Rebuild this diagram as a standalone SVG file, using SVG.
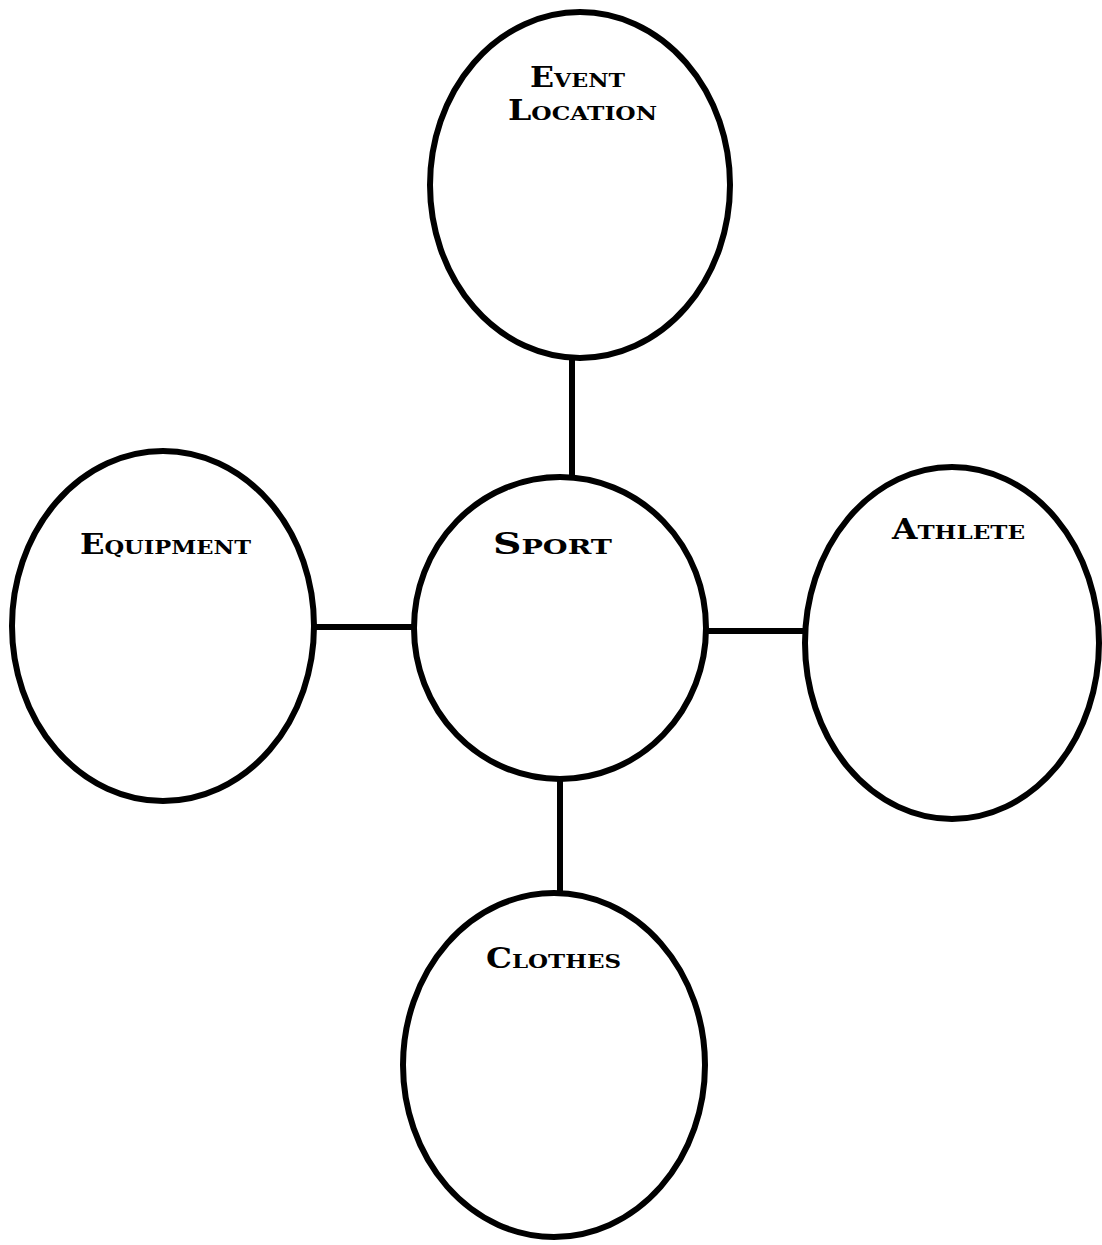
<svg xmlns="http://www.w3.org/2000/svg" width="1102" height="1245" viewBox="0 0 1102 1245">
<style>
.node{fill:#fff;stroke:#000;stroke-width:6}
.conn{stroke:#000;stroke-width:6;fill:none}
.lbl{font-family:"DejaVu Serif","Liberation Serif",serif;font-weight:bold;fill:#000}
.cap{font-size:27px}
.sm{font-size:19px}
</style>
<rect width="1102" height="1245" fill="#fff"/>
<g id="connectors">
<line class="conn" x1="572" y1="358" x2="572" y2="479"/>
<line class="conn" x1="314" y1="627" x2="415" y2="627"/>
<line class="conn" x1="704" y1="631" x2="806" y2="631"/>
<line class="conn" x1="560" y1="778" x2="560" y2="896"/>
</g>
<g id="event-location">
<ellipse class="node" cx="580" cy="185" rx="150" ry="173"/>
<text class="lbl" x="530" y="87" textLength="95" lengthAdjust="spacingAndGlyphs"><tspan class="cap">E</tspan><tspan class="sm">VENT</tspan></text>
<text class="lbl" x="508" y="120" textLength="149" lengthAdjust="spacingAndGlyphs"><tspan class="cap">L</tspan><tspan class="sm">OCATION</tspan></text>
</g>
<g id="sport">
<ellipse class="node" cx="560" cy="628" rx="146" ry="151"/>
<text class="lbl" x="493" y="554" textLength="119" lengthAdjust="spacingAndGlyphs"><tspan style="font-size:29px">S</tspan><tspan style="font-size:21px">PORT</tspan></text>
</g>
<g id="equipment">
<ellipse class="node" cx="163" cy="626" rx="151" ry="175"/>
<text class="lbl" x="80" y="554" textLength="171" lengthAdjust="spacingAndGlyphs"><tspan class="cap">E</tspan><tspan class="sm">QUIPMENT</tspan></text>
</g>
<g id="athlete">
<ellipse class="node" cx="952" cy="643" rx="147" ry="176"/>
<text class="lbl" x="892" y="539" textLength="133" lengthAdjust="spacingAndGlyphs"><tspan class="cap">A</tspan><tspan class="sm">THLETE</tspan></text>
</g>
<g id="clothes">
<ellipse class="node" cx="554" cy="1065" rx="151" ry="172"/>
<text class="lbl" x="486" y="968" textLength="135" lengthAdjust="spacingAndGlyphs"><tspan class="cap">C</tspan><tspan class="sm">LOTHES</tspan></text>
</g>
</svg>
